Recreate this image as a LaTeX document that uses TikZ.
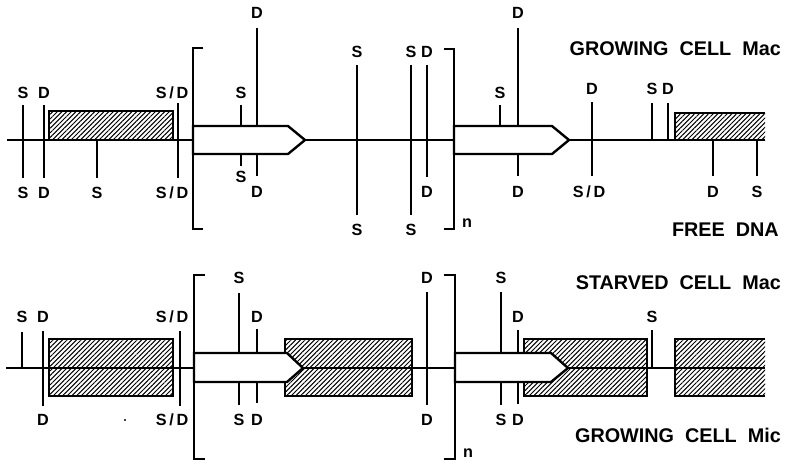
\documentclass[tikz,border=0pt]{standalone}
\usepackage{fontspec}
\setmainfont{Liberation Sans}
\usetikzlibrary{patterns.meta}

\begin{document}
\begin{tikzpicture}[x=0.5pt,y=-0.5pt,line width=1.2pt,
  lbl/.style={font=\fontsize{8.1}{9}\selectfont\bfseries,inner sep=0pt},
  title/.style={font=\fontsize{9.9}{11}\selectfont\bfseries,inner sep=0pt,anchor=east},
  hatch/.style={pattern={Lines[angle=45,distance=1.65pt,line width=0.5pt]}},
  gene/.style={draw,fill=white}]
\useasboundingbox (0,0) rectangle (786,463);
% growing cell Mac / free DNA
\coordinate (ta) at (7,140); \coordinate (tb) at (765,140);
\fill[hatch] (49,111) rectangle (173,140); \draw (49,140) |- (173,111) -- (173,140);
\fill[hatch] (675,113) rectangle (765,140); \draw (675,140) |- (765,113);
\draw (ta) -- (tb);
\draw[gene] (193,126) -- (288,126) -- (305,140) -- (288,154) -- (193,154) -- cycle;
\draw[gene] (454,126) -- (552,126) -- (569,140) -- (552,154) -- (454,154) -- cycle;
\draw (203,48) -| (193,229) -- (203,229); \draw (444,49) -| (454,229) -- (444,229);
\node[lbl] (tn) at (467,223) {n};
\draw (23,105) -- (23,178); \node[lbl] (ts1) at (23,93) {S}; \node[lbl] (ts1b) at (23,193) {S};
\draw (44,105) -- (44,178); \node[lbl] (td1) at (44,93) {D}; \node[lbl] (td1b) at (44,193) {D};
\draw (97,140) -- (97,178); \node[lbl] (ts2b) at (97,193) {S};
\draw (178,103) -- (178,178); \node[lbl] (tsd1) at (172,93) {S\,/\,D}; \node[lbl] (tsd1b) at (172,193) {S\,/\,D};
\draw (241,105) -- (241,126); \draw (241,154) -- (241,166);
\node[lbl] (ts3) at (241,93) {S}; \node[lbl] (ts3b) at (241,177) {S};
\draw (257,28) -- (257,126); \draw (257,154) -- (257,176);
\node[lbl] (td2) at (257,13) {D}; \node[lbl] (td2b) at (257,192) {D};
\draw (357,65) -- (357,215); \node[lbl] (ts4) at (357,52) {S}; \node[lbl] (ts4b) at (357,230) {S};
\draw (411,65) -- (411,215); \node[lbl] (ts5) at (411,52) {S}; \node[lbl] (ts5b) at (411,230) {S};
\draw (427,65) -- (427,177); \node[lbl] (td3) at (427,52) {D}; \node[lbl] (td3b) at (427,192) {D};
\draw (500,105) -- (500,126); \node[lbl] (ts6) at (500,93) {S};
\draw (518,28) -- (518,126); \draw (518,154) -- (518,176);
\node[lbl] (td4) at (518,13) {D}; \node[lbl] (td4b) at (518,192) {D};
\draw (592,102) -- (592,176); \node[lbl] (td5) at (592,89) {D}; \node[lbl] (tsd2b) at (589,192) {S\,/\,D};
\draw (652,103) -- (652,140); \node[lbl] (ts7) at (652,89) {S};
\draw (668,103) -- (668,140); \node[lbl] (td6) at (668,89) {D};
\draw (713,140) -- (713,176); \node[lbl] (td7b) at (713,192) {D};
\draw (757,140) -- (757,176); \node[lbl] (ts8b) at (757,192) {S};
\node[title] (grmac) at (782,49) {GROWING~~CELL~~Mac};
\node[title] (free) at (780,230) {FREE~~DNA};
% starved cell Mac / growing cell Mic
\coordinate (ba) at (6,368); \coordinate (bb) at (765,368);
\fill[hatch] (49,339) rectangle (173,396); \draw (49,339) rectangle (173,396);
\fill[hatch] (285,339) rectangle (412,396); \draw (285,339) rectangle (412,396);
\fill[hatch] (524,339) rectangle (647,396); \draw (524,339) rectangle (647,396);
\fill[hatch] (675,339) rectangle (765,396); \draw (765,339) -| (675,396) -- (765,396);
\draw (ba) -- (bb);
\draw[gene] (194,353) -- (287,353) -- (303,368) -- (287,382) -- (194,382) -- cycle;
\draw[gene] (455,353) -- (551,353) -- (568,368) -- (551,382) -- (455,382) -- cycle;
\draw (205,275) -| (194,459) -- (205,459); \draw (444,275) -| (455,459) -- (444,459);
\node[lbl] (bn) at (468,453) {n};
\draw (22,332) -- (22,368); \node[lbl] (bs1) at (22,317) {S};
\draw (43,331) -- (43,406); \node[lbl] (bd1) at (43,317) {D}; \node[lbl] (bd1b) at (43,420) {D};
\draw (180,331) -- (180,406); \node[lbl] (bsd1) at (172,317) {S\,/\,D}; \node[lbl] (bsd1b) at (172,420) {S\,/\,D};
\fill (125,420) circle (1.2);
\draw (239,293) -- (239,353); \draw (239,382) -- (239,405);
\node[lbl] (bs2) at (239,278) {S}; \node[lbl] (bs2b) at (239,420) {S};
\draw (257,329) -- (257,353); \draw (257,382) -- (257,403);
\node[lbl] (bd2) at (257,317) {D}; \node[lbl] (bd2b) at (257,420) {D};
\draw (427,292) -- (427,405); \node[lbl] (bd3) at (427,278) {D}; \node[lbl] (bd3b) at (427,420) {D};
\draw (501,292) -- (501,353); \draw (501,382) -- (501,405);
\node[lbl] (bs3) at (501,278) {S}; \node[lbl] (bs3b) at (501,420) {S};
\draw (518,330) -- (518,353); \draw (518,382) -- (518,404);
\node[lbl] (bd4) at (518,317) {D}; \node[lbl] (bd4b) at (518,420) {D};
\draw (652,330) -- (652,368); \node[lbl] (bs4) at (652,317) {S};
\node[title] (stmac) at (782,283) {STARVED~~CELL~~Mac};
\node[title] (grmic) at (782,435) {GROWING~~CELL~~Mic};
\end{tikzpicture}
\end{document}
